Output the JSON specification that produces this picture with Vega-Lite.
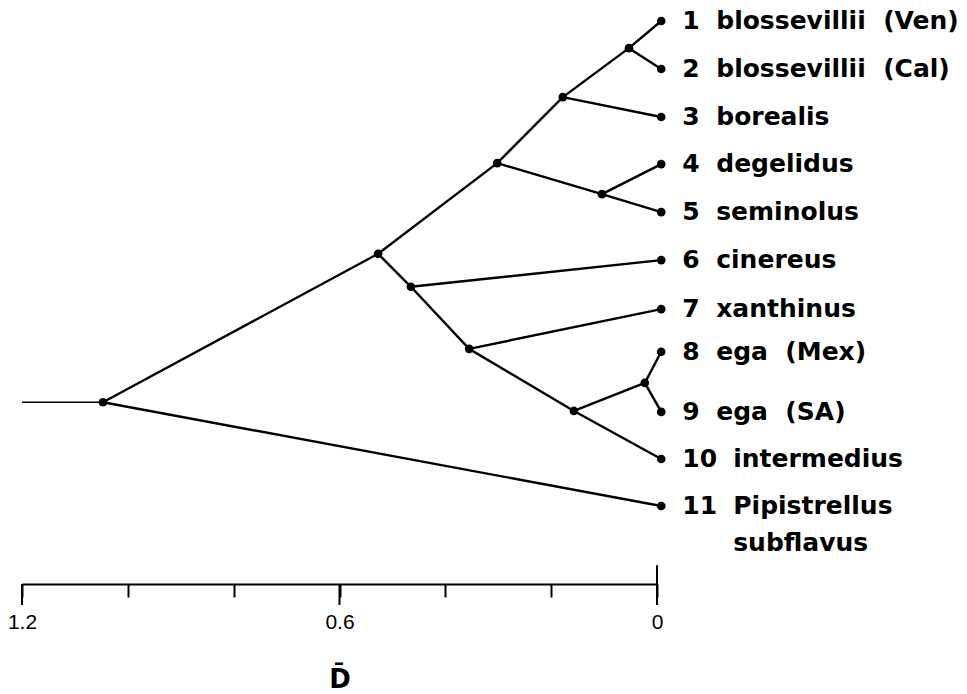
{
  "$schema": "https://vega.github.io/schema/vega-lite/v6.json",
  "width": 635,
  "height": 563,
  "autosize": {"type": "none"},
  "padding": {"left": 22, "top": 21, "right": 310, "bottom": 110},
  "background": "white",
  "config": {"view": {"stroke": null}},
  "datasets": {
    "edges": [
      {"d": 1.047, "r": 8.86, "d2": 0.527, "r2": 5.80},
      {"d": 1.047, "r": 8.86, "d2": -0.008, "r2": 11.0},
      {"d": 0.527, "r": 5.80, "d2": 0.302, "r2": 3.93},
      {"d": 0.527, "r": 5.80, "d2": 0.465, "r2": 6.48},
      {"d": 0.302, "r": 3.93, "d2": 0.178, "r2": 2.57},
      {"d": 0.302, "r": 3.93, "d2": 0.104, "r2": 4.57},
      {"d": 0.178, "r": 2.57, "d2": 0.053, "r2": 1.56},
      {"d": 0.178, "r": 2.57, "d2": -0.008, "r2": 2.98},
      {"d": 0.053, "r": 1.56, "d2": -0.008, "r2": 1.0},
      {"d": 0.053, "r": 1.56, "d2": -0.008, "r2": 1.99},
      {"d": 0.104, "r": 4.57, "d2": -0.008, "r2": 3.95},
      {"d": 0.104, "r": 4.57, "d2": -0.008, "r2": 4.94},
      {"d": 0.465, "r": 6.48, "d2": -0.008, "r2": 5.93},
      {"d": 0.465, "r": 6.48, "d2": 0.355, "r2": 7.76},
      {"d": 0.355, "r": 7.76, "d2": -0.008, "r2": 6.94},
      {"d": 0.355, "r": 7.76, "d2": 0.157, "r2": 9.04},
      {"d": 0.157, "r": 9.04, "d2": 0.023, "r2": 8.46},
      {"d": 0.157, "r": 9.04, "d2": -0.008, "r2": 10.03},
      {"d": 0.023, "r": 8.46, "d2": -0.008, "r2": 7.82},
      {"d": 0.023, "r": 8.46, "d2": -0.008, "r2": 9.06}
    ],
    "nodes": [
      {"d": 1.047, "r": 8.86},
      {"d": 0.527, "r": 5.80},
      {"d": 0.302, "r": 3.93},
      {"d": 0.178, "r": 2.57},
      {"d": 0.053, "r": 1.56},
      {"d": 0.104, "r": 4.57},
      {"d": 0.465, "r": 6.48},
      {"d": 0.355, "r": 7.76},
      {"d": 0.157, "r": 9.04},
      {"d": 0.023, "r": 8.46}
    ],
    "leaves": [
      {"n": 1, "num": "1", "name": "blossevillii\u00a0 (Ven)", "d": -0.008, "r": 1.0},
      {"n": 2, "num": "2", "name": "blossevillii\u00a0 (Cal)", "d": -0.008, "r": 1.99},
      {"n": 3, "num": "3", "name": "borealis", "d": -0.008, "r": 2.98},
      {"n": 4, "num": "4", "name": "degelidus", "d": -0.008, "r": 3.95},
      {"n": 5, "num": "5", "name": "seminolus", "d": -0.008, "r": 4.94},
      {"n": 6, "num": "6", "name": "cinereus", "d": -0.008, "r": 5.93},
      {"n": 7, "num": "7", "name": "xanthinus", "d": -0.008, "r": 6.94},
      {"n": 8, "num": "8", "name": "ega\u00a0 (Mex)", "d": -0.008, "r": 7.82},
      {"n": 9, "num": "9", "name": "ega\u00a0 (SA)", "d": -0.008, "r": 9.06},
      {"n": 10, "num": "10", "name": "intermedius", "d": -0.008, "r": 10.03},
      {"n": 11, "num": "11", "name": "Pipistrellus\nsubflavus", "d": -0.008, "r": 11.0}
    ],
    "majorticks": [
      {"d": 1.2, "r": 12.608, "r2": 13.04},
      {"d": 0.6, "r": 12.608, "r2": 13.04},
      {"d": 0, "r": 12.22, "r2": 13.04}
    ]
  },
  "encoding": {
    "x": {
      "field": "d",
      "type": "quantitative",
      "scale": {"domain": [0, 1.2], "reverse": true, "nice": false, "zero": false},
      "axis": {
        "values": [1.2, 1.0, 0.8, 0.6, 0.4, 0.2, 0],
        "labelExpr": "(abs(datum.value) < 1e-6) ? '0' : (abs(datum.value - 0.6) < 1e-6 || abs(datum.value - 1.2) < 1e-6) ? datum.label : ''",
        "grid": false,
        "domainColor": "black",
        "domainWidth": 2,
        "tickColor": "black",
        "tickWidth": 2,
        "tickSize": 13,
        "labelFont": "Liberation Sans",
        "labelFontSize": 21,
        "labelColor": "black",
        "labelPadding": 14,
        "labelFlush": false,
        "labelOverlap": false,
        "title": "D\u0304",
        "titleFont": "DejaVu Sans",
        "titleFontSize": 26,
        "titleFontWeight": "bold",
        "titleColor": "black",
        "titlePadding": 34
      }
    },
    "y": {
      "field": "r",
      "type": "quantitative",
      "scale": {"domain": [1, 12.608], "reverse": true, "nice": false, "zero": false},
      "axis": null
    }
  },
  "layer": [
    {
      "data": {"values": [{"d": 1.2, "r": 8.86, "d2": 1.047, "r2": 8.86}]},
      "mark": {"type": "rule", "color": "black", "strokeWidth": 1.6},
      "encoding": {"x2": {"field": "d2"}, "y2": {"field": "r2"}}
    },
    {
      "data": {"name": "edges"},
      "mark": {"type": "rule", "color": "black", "strokeWidth": 2.4},
      "encoding": {"x2": {"field": "d2"}, "y2": {"field": "r2"}}
    },
    {
      "data": {"name": "majorticks"},
      "mark": {"type": "rule", "color": "black", "strokeWidth": 2},
      "encoding": {"y2": {"field": "r2"}}
    },
    {
      "data": {"name": "nodes"},
      "mark": {"type": "point", "filled": true, "color": "black", "opacity": 1, "size": 75}
    },
    {
      "data": {"name": "leaves"},
      "mark": {"type": "point", "filled": true, "color": "black", "opacity": 1, "size": 75}
    },
    {
      "data": {"name": "leaves"},
      "mark": {"type": "text", "align": "left", "baseline": "alphabetic", "dx": 21, "dy": 8, "font": "DejaVu Sans", "fontWeight": "bold", "fontSize": 25, "color": "black"},
      "encoding": {"text": {"field": "num"}}
    },
    {
      "data": {"name": "leaves"},
      "transform": [{"filter": "datum.n < 10"}],
      "mark": {"type": "text", "align": "left", "baseline": "alphabetic", "dx": 55, "dy": 8, "font": "DejaVu Sans", "fontWeight": "bold", "fontSize": 25, "color": "black"},
      "encoding": {"text": {"field": "name"}}
    },
    {
      "data": {"name": "leaves"},
      "transform": [{"filter": "datum.n >= 10"}],
      "mark": {"type": "text", "align": "left", "baseline": "alphabetic", "dx": 72, "dy": 8, "font": "DejaVu Sans", "fontWeight": "bold", "fontSize": 25, "color": "black", "lineBreak": "\n", "lineHeight": 37},
      "encoding": {"text": {"field": "name"}}
    }
  ]
}
